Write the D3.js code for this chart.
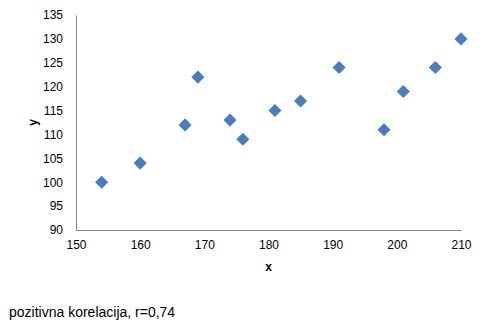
<!DOCTYPE html>
<html>
<head>
<meta charset="utf-8">
<script src="https://cdn.jsdelivr.net/npm/d3@7"></script>
<style>
  body { margin: 0; background: #fff; }
  svg { font-family: "Liberation Sans", Arial, sans-serif; }
</style>
</head>
<body>
<div id="chart"></div>
<script>
// podaci
const xValues = [154, 160, 167, 169, 174, 176, 181, 185, 191, 198, 201, 206, 210];
const yValues = [100, 104, 112, 122, 113, 109, 115, 117, 124, 111, 119, 124, 130];
const xTicks = [150, 160, 170, 180, 190, 200, 210];
const yTicks = [90, 95, 100, 105, 110, 115, 120, 125, 130, 135];
const caption = 'pozitivna korelacija, r=0,74';

const width = 492, height = 331;
const margin = { left: 76, right: 31, top: 15, bottom: 101 };

const svg = d3.select('#chart').append('svg')
    .attr('width', width)
    .attr('height', height);

const x = d3.scaleLinear().domain([150, 210]).range([margin.left, width - margin.right]);
const y = d3.scaleLinear().domain([90, 135]).range([height - margin.bottom, margin.top]);

// os x
const xAxis = svg.append('g')
    .attr('transform', `translate(0, ${height - margin.bottom})`)
    .call(d3.axisBottom(x).tickValues(xTicks).tickSize(0).tickPadding(10));
xAxis.select('.domain').attr('stroke', '#868686');
xAxis.selectAll('text').attr('font-size', 12).attr('fill', '#000')
    .attr('font-family', '"Liberation Sans", Arial, sans-serif');

// os y
const yAxis = svg.append('g')
    .attr('transform', `translate(${margin.left}, 0)`)
    .call(d3.axisLeft(y).tickValues(yTicks).tickSize(0).tickPadding(13));
yAxis.select('.domain').attr('stroke', '#868686');
yAxis.selectAll('text').attr('font-size', 12).attr('fill', '#000')
    .attr('font-family', '"Liberation Sans", Arial, sans-serif');

// naslovi osi
svg.append('text')
    .attr('x', x(180))
    .attr('y', 271)
    .attr('text-anchor', 'middle')
    .attr('font-size', 12)
    .attr('font-weight', 'bold')
    .text('x');

svg.append('text')
    .attr('transform', `translate(37, ${y(112.5)}) rotate(-90)`)
    .attr('text-anchor', 'middle')
    .attr('font-size', 12)
    .attr('font-weight', 'bold')
    .text('y');

// tocke
const points = xValues.map((d, i) => ({ x: d, y: yValues[i] }));
svg.selectAll('.point')
    .data(points)
    .enter()
    .append('path')
    .attr('class', 'point')
    .attr('d', d3.symbol().type(d3.symbolDiamond2).size(110))
    .attr('transform', d => `translate(${x(d.x)}, ${y(d.y)})`)
    .attr('fill', '#4a7ebb');

// opis
svg.append('text')
    .attr('x', 9)
    .attr('y', 317)
    .attr('font-size', 14)
    .attr('fill', '#000')
    .text(caption);
</script>
</body>
</html>
